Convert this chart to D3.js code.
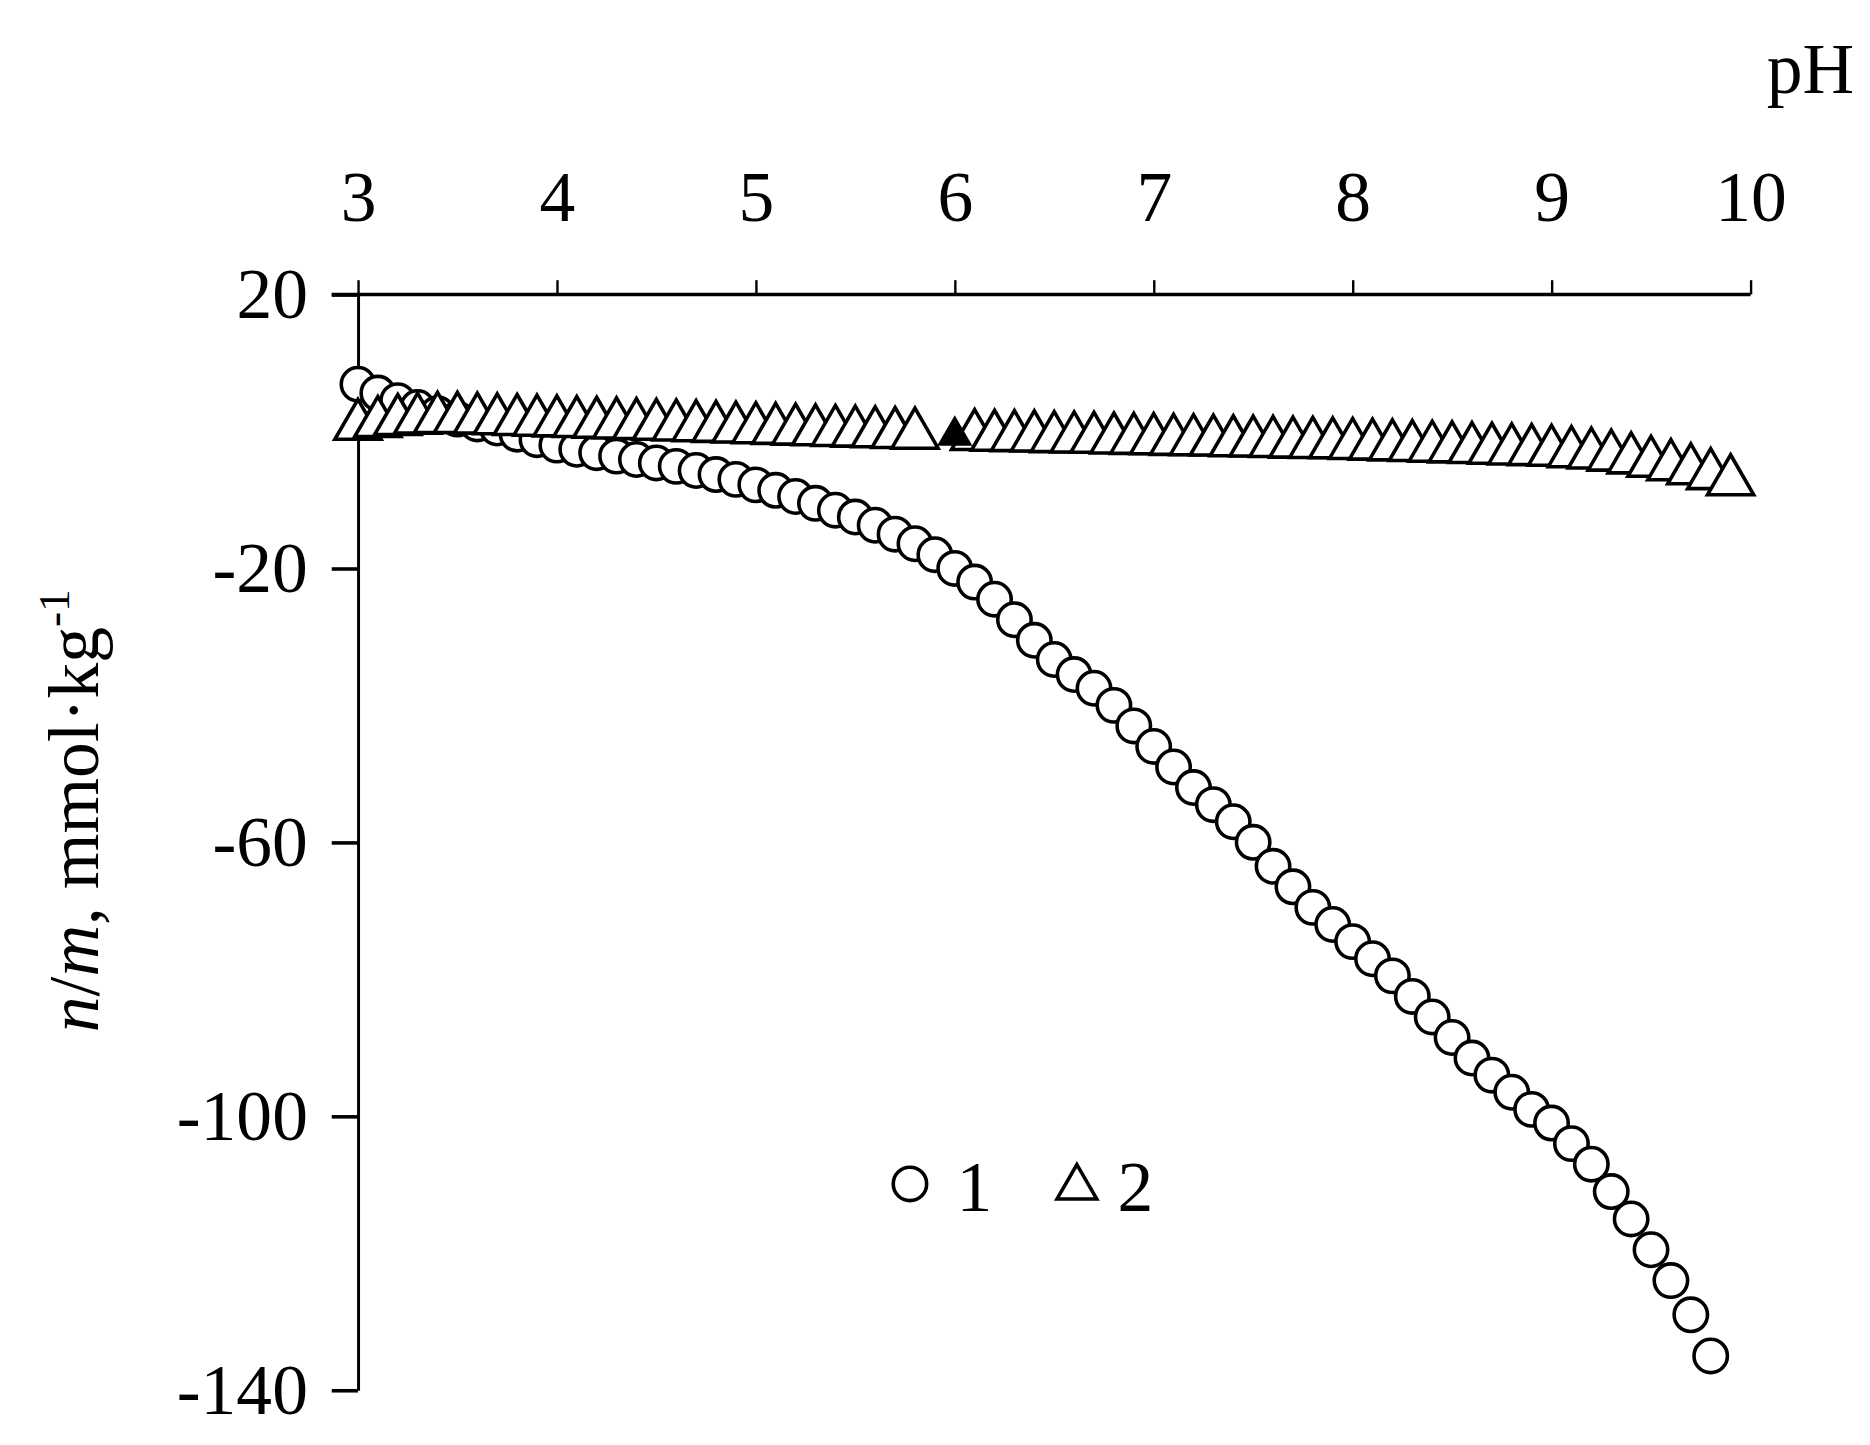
<!DOCTYPE html>
<html>
<head>
<meta charset="utf-8">
<script src="https://cdn.jsdelivr.net/npm/d3@7"></script>
<style>
  body { margin: 0; background: #fff; }
  text { font-family: "Liberation Serif", "Times New Roman", serif; fill: #000; }
</style>
</head>
<body>
<svg id="chart" width="1870" height="1445" viewBox="0 0 1568 1212"></svg>
<script>
// series 1 (circles): pH 3.0 .. 9.8 step 0.1
const ph1 = d3.range(30, 99).map(d => d / 10);
const val1 = [6.9, 5.6, 4.5, 3.5, 2.6, 1.8, 1.1, 0.5, -0.4, -1.2,
  -2.0, -2.6, -3.1, -3.6, -4.1, -4.6, -5.1, -5.7, -6.3, -7.0,
  -7.8, -8.6, -9.5, -10.5, -11.5, -12.5, -13.7, -15.0, -16.4, -18.0,
  -20.0, -22.0, -24.5, -27.5, -30.5, -33.3, -35.5, -37.5, -40.0, -43.0,
  -46.0, -49.0, -52.0, -54.5, -57.0, -60.0, -63.5, -66.5, -69.5, -72.0,
  -74.5, -77.0, -79.5, -82.5, -85.5, -88.5, -91.5, -94.0, -96.5, -99.0,
  -101.0, -104.0, -107.0, -111.0, -115.0, -119.5, -124.0, -129.0, -135.0];

// series 2 (triangles): pH 3.0 .. 5.8 and 6.1 .. 9.9, plus filled point at 6.0
const ph2 = d3.range(30, 59).map(d => d / 10).concat(d3.range(61, 100).map(d => d / 10));
const val2 = [0.8, 1.2, 1.5, 1.7, 1.8, 1.8, 1.7, 1.6, 1.5, 1.4,
  1.3, 1.2, 1.1, 1.0, 0.9, 0.8, 0.7, 0.6, 0.5, 0.4,
  0.3, 0.2, 0.1, 0.0, -0.1, -0.2, -0.3, -0.4, -0.5,
  -0.7, -0.8, -0.85, -0.9, -1.0, -1.05, -1.1, -1.2, -1.25, -1.3,
  -1.4, -1.45, -1.5, -1.6, -1.65, -1.7, -1.8, -1.85, -1.9, -2.0,
  -2.1, -2.2, -2.3, -2.4, -2.5, -2.6, -2.7, -2.8, -2.9, -3.0,
  -3.2, -3.4, -3.7, -4.1, -4.6, -5.1, -5.7, -6.4, -7.3];
const filledPh = [6.0];
const filledVal = [-0.6];

const xTicks = [3, 4, 5, 6, 7, 8, 9, 10];
const yTicks = [20, -20, -60, -100, -140];

const svg = d3.select("#chart");
const x = d3.scaleLinear().domain([3, 10]).range([300, 1468]);
const y = d3.scaleLinear().domain([20, -140]).range([247, 1166]);
const fmt = d => String(d).replace("\u2212", "-");

// x axis on top
const xAxis = svg.append("g").attr("transform", "translate(0,247)")
  .call(d3.axisTop(x).tickValues(xTicks).tickFormat(fmt).tickSize(12).tickPadding(50).tickSizeOuter(0));
xAxis.select(".domain").attr("d", "M278,0H1468").attr("stroke-width", 3);
xAxis.selectAll(".tick line").attr("stroke-width", 2);
xAxis.selectAll(".tick text").attr("font-size", 60).attr("font-family", "Liberation Serif");

const yAxis = svg.append("g").attr("transform", "translate(300,0)")
  .call(d3.axisLeft(y).tickValues(yTicks).tickFormat(fmt).tickSize(22).tickPadding(20).tickSizeOuter(0));
yAxis.select(".domain").attr("stroke-width", 2.5);
yAxis.selectAll(".tick line").attr("stroke-width", 3);
yAxis.selectAll(".tick text").attr("font-size", 60).attr("font-family", "Liberation Serif");

svg.append("text").attr("x", 1555).attr("y", 78).attr("text-anchor", "end")
  .attr("font-size", 60).text("pH");

const yt = svg.append("text").attr("transform", "translate(82,680) rotate(-90)")
  .attr("text-anchor", "middle").attr("font-size", 60);
yt.append("tspan").attr("font-style", "italic").text("n");
yt.append("tspan").text("/");
yt.append("tspan").attr("font-style", "italic").text("m");
yt.append("tspan").text(", mmol·kg");
yt.append("tspan").attr("font-size", 38).attr("dy", -24).text("-1");

svg.append("g").selectAll("circle").data(ph1).join("circle")
  .attr("cx", d => x(d)).attr("cy", (d, i) => y(val1[i])).attr("r", 14)
  .attr("fill", "#fff").attr("stroke", "#000").attr("stroke-width", 3);

const tri = d3.symbol().type(d3.symbolTriangle).size(650);
svg.append("g").selectAll("path").data(ph2).join("path")
  .attr("transform", (d, i) => `translate(${x(d)},${y(val2[i])})`)
  .attr("d", tri).attr("fill", "#fff").attr("stroke", "#000").attr("stroke-width", 3);
svg.append("g").selectAll("path").data(filledPh).join("path")
  .attr("transform", (d, i) => `translate(${x(d)},${y(filledVal[i])})`)
  .attr("d", d3.symbol().type(d3.symbolTriangle).size(380)).attr("fill", "#000");

// legend
svg.append("circle").attr("cx", 763).attr("cy", 993).attr("r", 14)
  .attr("fill", "#fff").attr("stroke", "#000").attr("stroke-width", 3);
svg.append("text").attr("x", 802).attr("y", 1016).attr("font-size", 60).text("1");
svg.append("path").attr("transform", "translate(903,996)")
  .attr("d", d3.symbol().type(d3.symbolTriangle).size(480))
  .attr("fill", "#fff").attr("stroke", "#000").attr("stroke-width", 3);
svg.append("text").attr("x", 937).attr("y", 1016).attr("font-size", 60).text("2");
</script>
</body>
</html>
